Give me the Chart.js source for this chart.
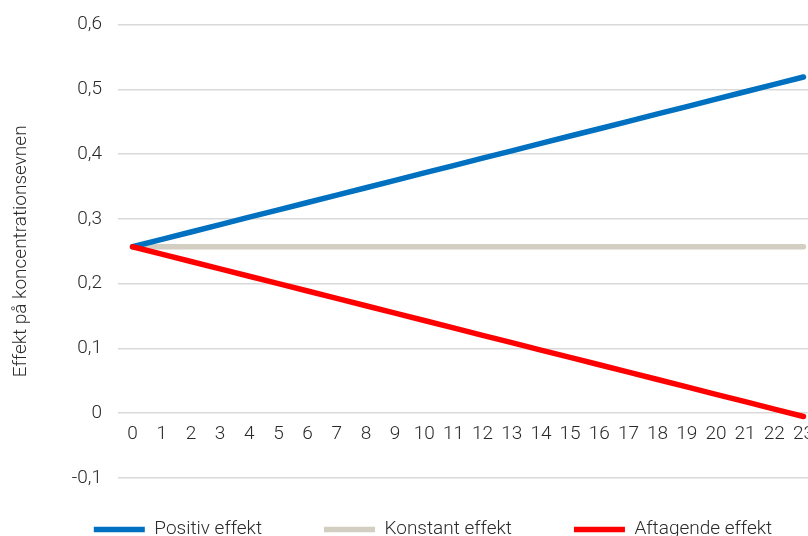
<!DOCTYPE html>
<html>
<head>
<meta charset="utf-8">
<script src="https://cdn.jsdelivr.net/npm/chart.js@4.4.1/dist/chart.umd.min.js"></script>
<style>
  html, body { margin: 0; padding: 0; background: #ffffff; overflow: hidden; }
  #wrap { position: absolute; left: 0; top: 0; width: 824px; height: 569px; }
</style>
</head>
<body>
<div id="wrap"><canvas id="chart"></canvas></div>
<script>
// Tidspunkter (x-akse)
const tidspunkter = ['0','1','2','3','4','5','6','7','8','9','10','11','12','13','14','15','16','17','18','19','20','21','22','23'];

// Effekt på koncentrationsevnen for hvert scenarie
const positivEffekt = [0.2570,0.2684,0.2798,0.2912,0.3026,0.3140,0.3253,0.3367,0.3481,0.3595,0.3709,0.3823,0.3937,0.4051,0.4165,0.4279,0.4392,0.4506,0.4620,0.4734,0.4848,0.4962,0.5076,0.5190];
const konstantEffekt = [0.257,0.257,0.257,0.257,0.257,0.257,0.257,0.257,0.257,0.257,0.257,0.257,0.257,0.257,0.257,0.257,0.257,0.257,0.257,0.257,0.257,0.257,0.257,0.257];
const aftagendeEffekt = [0.2570,0.2456,0.2342,0.2228,0.2114,0.2001,0.1887,0.1773,0.1659,0.1545,0.1431,0.1317,0.1203,0.1089,0.0975,0.0862,0.0748,0.0634,0.0520,0.0406,0.0292,0.0178,0.0064,-0.0050];

// Serienavne og y-aksens inddeling
const serieNavne = ['Positiv effekt', 'Konstant effekt', 'Aftagende effekt'];
const yMin = -0.1;
const yMax = 0.6;
const yTrin = 0.1;
const yTitel = 'Effekt på koncentrationsevnen';

const tekstFarve = '#2a2a2a';
const skrift = { family: 'Roboto, "Liberation Sans", sans-serif', size: 19, weight: '300' };
const tætSkrift = Object.assign({}, skrift, { lineHeight: 0.9 });

// Flytter forklaringen en smule i forhold til standardplaceringen
const forklaringsForskydning = {
  id: 'forklaringsForskydning',
  afterUpdate(chart, args, opts) {
    const l = chart.legend;
    if (!l) return;
    l.left += opts.dx; l.right += opts.dx;
    l.top += opts.dy; l.bottom += opts.dy;
  }
};

const linje = { borderWidth: 5.5, borderCapStyle: 'round', borderJoinStyle: 'round', pointRadius: 0, tension: 0 };

new Chart(document.getElementById('chart'), {
  type: 'line',
  data: {
    labels: tidspunkter,
    datasets: [
      Object.assign({ label: serieNavne[0], data: positivEffekt, borderColor: '#0070C0', backgroundColor: '#0070C0', order: 1 }, linje),
      Object.assign({ label: serieNavne[1], data: konstantEffekt, borderColor: '#D2CEC2', backgroundColor: '#D2CEC2', order: 2 }, linje),
      Object.assign({ label: serieNavne[2], data: aftagendeEffekt, borderColor: '#FF0000', backgroundColor: '#FF0000', order: 0 }, linje)
    ]
  },
  plugins: [forklaringsForskydning],
  options: {
    responsive: true,
    maintainAspectRatio: false,
    animation: false,
    events: [],
    layout: { padding: { top: 18, left: 0, right: 0, bottom: 0 } },
    scales: {
      x: {
        type: 'category',
        position: { y: 0 },
        offset: true,
        grid: { display: false, drawTicks: false },
        border: { display: false },
        ticks: { color: tekstFarve, font: skrift, padding: 10, maxRotation: 0, autoSkip: false }
      },
      y: {
        min: yMin,
        max: yMax,
        afterFit(scale) { scale.width = 118; },
        grid: { color: '#d9d9d9', lineWidth: 1.5, drawTicks: false },
        border: { display: false },
        ticks: {
          stepSize: yTrin,
          padding: 16,
          color: tekstFarve,
          font: tætSkrift,
          callback(v) {
            const r = Math.round(v * 10) / 10;
            return r === 0 ? '0' : r.toFixed(1).replace('.', ',');
          }
        },
        title: { display: true, text: yTitel, color: tekstFarve, font: skrift, padding: { top: 9.5, bottom: 0 } }
      }
    },
    plugins: {
      tooltip: { enabled: false },
      forklaringsForskydning: { dx: 21, dy: -20 },
      legend: {
        position: 'bottom',
        labels: {
          usePointStyle: true,
          pointStyle: 'line',
          pointStyleWidth: 51,
          padding: 62,
          color: tekstFarve,
          font: skrift,
          sort: (a, b) => a.datasetIndex - b.datasetIndex
        }
      }
    }
  }
});
</script>
</body>
</html>
